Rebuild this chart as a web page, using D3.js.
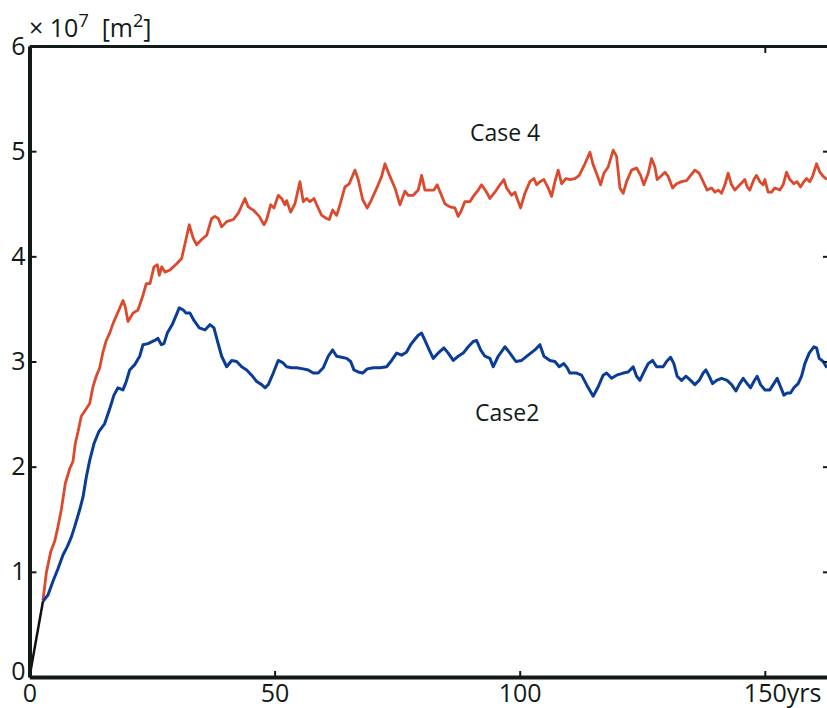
<!DOCTYPE html>
<html>
<head>
<meta charset="utf-8">
<script src="https://cdn.jsdelivr.net/npm/d3@7"></script>
<style>
  html, body { margin: 0; padding: 0; background: #fff; }
  svg { display: block; font-family: "Open Sans", "Liberation Sans", sans-serif; }
</style>
</head>
<body>
<div id="chart"></div>
<script>
const yearTicks = [0, 50, 100, 150];
const valueTicks = [0, 1, 2, 3, 4, 5, 6];
const topTicks = [150];
const rightTicks = [1, 2, 3, 4, 5];

// shared first part (drawn black in the original)
const startYears = [0, 2.75];
const startValues = [0, 0.72];

const case4Years = [2.75,3.43,4.32,5.14,5.81,6.49,7.30,8.20,8.87,9.34,9.89,10.56,11.58,12.28,12.95,13.62,14.32,14.99,15.66,16.36,17.03,18.05,19.07,19.54,20.09,21.11,22.13,23.15,23.82,24.58,25.39,26.07,26.47,26.96,27.64,28.66,30.02,31.04,31.72,32.59,33.41,34.10,35.12,36.14,37.16,37.83,38.51,39.20,40.22,41.57,42.59,43.95,44.63,45.65,46.87,47.83,48.38,49.19,49.87,50.74,51.44,52.11,52.46,53.27,54.15,55.17,55.84,56.54,57.21,58.03,58.90,59.60,60.62,61.15,61.84,62.66,63.33,64.35,65.22,66.39,67.06,67.96,68.90,69.79,70.94,71.83,72.51,73.53,74.55,75.57,76.59,77.26,78.28,79.30,79.99,80.67,81.69,82.50,83.17,83.87,84.74,85.76,86.78,87.46,87.95,88.82,89.84,90.52,91.54,92.23,93.25,93.92,94.94,95.96,96.78,97.33,98.35,99.02,100.18,101.06,102.08,102.90,103.45,104.12,104.94,105.81,106.51,107.18,107.85,108.55,109.42,110.24,111.26,112.14,113.30,114.32,114.99,115.81,116.50,117.17,118.05,119.07,119.76,120.44,121.11,121.80,122.82,123.84,124.66,125.33,126.21,126.90,127.58,128.04,128.74,129.62,130.29,131.19,132.00,133.02,134.04,134.71,135.73,136.61,137.43,138.24,139.14,139.82,140.49,141.18,141.86,142.52,143.22,143.89,144.91,145.93,146.40,146.95,147.77,148.31,148.99,149.66,150.01,150.68,151.38,152.05,153.07,153.74,154.44,155.11,155.93,156.60,157.29,157.97,158.52,159.19,159.74,160.56,161.24,161.91,162.66];
const case4Values = [0.73,0.99,1.19,1.29,1.43,1.59,1.84,1.98,2.05,2.22,2.33,2.48,2.55,2.60,2.76,2.86,2.94,3.09,3.20,3.27,3.36,3.47,3.58,3.52,3.38,3.46,3.49,3.63,3.74,3.74,3.90,3.92,3.82,3.90,3.85,3.87,3.93,3.98,4.12,4.30,4.17,4.11,4.16,4.20,4.36,4.38,4.36,4.28,4.33,4.35,4.41,4.55,4.47,4.44,4.38,4.30,4.35,4.49,4.46,4.58,4.55,4.49,4.53,4.42,4.50,4.71,4.52,4.55,4.52,4.55,4.46,4.39,4.36,4.35,4.44,4.39,4.49,4.66,4.69,4.82,4.73,4.54,4.46,4.54,4.66,4.76,4.88,4.76,4.65,4.49,4.62,4.58,4.58,4.63,4.77,4.63,4.63,4.63,4.68,4.60,4.50,4.47,4.46,4.38,4.42,4.52,4.52,4.57,4.63,4.68,4.61,4.55,4.61,4.68,4.73,4.65,4.58,4.61,4.46,4.60,4.71,4.74,4.68,4.71,4.73,4.65,4.57,4.71,4.82,4.69,4.74,4.73,4.74,4.77,4.88,4.99,4.87,4.77,4.68,4.79,4.85,5.01,4.95,4.65,4.60,4.71,4.82,4.84,4.77,4.68,4.79,4.93,4.85,4.73,4.76,4.80,4.76,4.65,4.69,4.71,4.72,4.76,4.82,4.79,4.71,4.63,4.65,4.61,4.63,4.60,4.68,4.79,4.68,4.63,4.68,4.73,4.66,4.63,4.73,4.77,4.71,4.68,4.73,4.61,4.61,4.65,4.63,4.68,4.80,4.73,4.69,4.71,4.66,4.71,4.74,4.71,4.76,4.88,4.80,4.76,4.73];

const case2Years = [2.75,3.77,4.79,5.81,6.83,7.71,8.53,9.22,10.24,10.91,11.58,12.28,13.16,14.11,15.34,16.36,17.23,18.05,19.07,19.74,20.44,21.46,22.48,23.15,24.17,25.54,26.21,26.88,27.43,28.11,29.21,30.55,31.37,31.92,32.74,33.55,34.63,35.79,36.81,37.63,38.30,39.20,40.22,41.24,42.26,43.28,44.30,45.32,46.34,47.36,48.03,48.71,49.73,50.74,51.64,52.46,53.48,54.50,55.84,56.86,57.88,58.90,59.92,60.94,61.84,62.66,63.68,64.70,65.51,66.18,67.06,67.96,68.90,70.12,71.49,72.85,73.87,74.89,75.91,76.93,77.75,78.42,79.30,79.99,80.67,81.54,82.36,83.58,84.54,85.42,86.44,87.46,88.48,89.50,90.52,91.21,92.03,92.90,93.92,94.59,95.62,96.98,98.00,99.23,100.39,101.73,103.10,104.12,104.94,106.16,107.18,108.06,109.01,109.69,110.24,111.60,112.62,113.64,114.99,116.01,117.03,117.72,118.74,119.76,121.11,122.13,123.15,123.84,124.52,125.33,126.21,127.11,127.92,129.27,129.96,130.78,131.45,132.12,133.02,133.90,134.86,135.73,136.61,137.43,137.98,138.65,139.34,140.16,141.18,142.32,143.22,144.10,144.77,145.59,146.40,147.09,147.77,148.44,149.13,150.01,151.03,151.85,152.52,153.21,153.89,154.56,155.25,155.93,156.80,157.50,158.17,159.05,160.01,160.56,161.09,161.91,162.66];
const case2Values = [0.72,0.78,0.91,1.03,1.16,1.24,1.33,1.43,1.59,1.71,1.90,2.06,2.22,2.33,2.41,2.55,2.68,2.75,2.73,2.81,2.92,2.97,3.05,3.16,3.17,3.20,3.22,3.16,3.17,3.27,3.36,3.51,3.49,3.46,3.46,3.39,3.32,3.30,3.35,3.32,3.20,3.05,2.95,3.01,3.00,2.95,2.92,2.87,2.81,2.78,2.75,2.78,2.89,3.01,2.99,2.95,2.94,2.94,2.93,2.92,2.89,2.89,2.94,3.05,3.11,3.05,3.04,3.03,3.00,2.92,2.90,2.89,2.93,2.94,2.94,2.95,3.01,3.08,3.06,3.09,3.16,3.20,3.25,3.27,3.20,3.11,3.03,3.09,3.13,3.08,3.01,3.05,3.08,3.14,3.19,3.20,3.11,3.05,3.03,2.95,3.05,3.14,3.08,3.00,3.01,3.06,3.11,3.16,3.05,3.01,3.00,2.95,2.98,2.94,2.89,2.89,2.87,2.78,2.67,2.76,2.87,2.89,2.84,2.87,2.89,2.90,2.95,2.86,2.82,2.90,2.98,3.01,2.95,2.95,3.00,3.04,2.98,2.86,2.82,2.86,2.82,2.78,2.82,2.89,2.92,2.86,2.79,2.82,2.84,2.82,2.78,2.72,2.78,2.84,2.79,2.75,2.81,2.86,2.78,2.73,2.73,2.79,2.84,2.76,2.68,2.70,2.70,2.75,2.79,2.86,2.98,3.08,3.14,3.13,3.03,3.00,2.94];

const W = 827, H = 708;
const axisColor = "#121a17";

const svg = d3.select("#chart").append("svg")
  .attr("width", W)
  .attr("height", H);

const x = d3.scaleLinear().domain([0, 163.3]).range([29.5, 830]);
const y = d3.scaleLinear().domain([0, 6]).range([677, 46]);

const line = d3.line()
  .x(d => x(d[0]))
  .y(d => y(d[1]));

// series
svg.append("path")
  .datum(d3.zip(case4Years, case4Values))
  .attr("fill", "none")
  .attr("stroke", "#dc4a2d")
  .attr("stroke-width", 2.8)
  .attr("stroke-linejoin", "round")
  .attr("d", line);

svg.append("path")
  .datum(d3.zip(case2Years, case2Values))
  .attr("fill", "none")
  .attr("stroke", "#0b3d97")
  .attr("stroke-width", 3)
  .attr("stroke-linejoin", "round")
  .attr("d", line);

svg.append("path")
  .datum(d3.zip(startYears, startValues))
  .attr("fill", "none")
  .attr("stroke", "#111")
  .attr("stroke-width", 2.5)
  .attr("d", line);

// axes
const yAxis = svg.append("g")
  .attr("transform", `translate(${x(0)},0)`)
  .call(d3.axisLeft(y).tickValues(valueTicks).tickFormat(d3.format("d"))
    .tickSizeInner(-7).tickSizeOuter(0).tickPadding(4));

const xAxis = svg.append("g")
  .attr("transform", `translate(0,${y(0)})`)
  .call(d3.axisBottom(x).tickValues(yearTicks).tickFormat(d3.format("d"))
    .tickSizeInner(-6).tickSizeOuter(0).tickPadding(7));

[yAxis, xAxis].forEach(g => {
  g.select(".domain").attr("stroke", axisColor).attr("stroke-width", 4);
  g.selectAll(".tick line").attr("stroke", axisColor).attr("stroke-width", 2);
  g.selectAll(".tick text")
    .attr("fill", axisColor)
    .style("font-size", "25px")
    .style("font-family", "'Open Sans', 'Liberation Sans', sans-serif");
});

// y "0" sits a little above its tick so it clears the x "0"
yAxis.selectAll(".tick").filter(d => d === 0).select("text").attr("dy", "0.1em");

// "150yrs": keep 150 centred on its tick, unit after it
xAxis.selectAll(".tick").filter(d => d === 150).select("text").each(function () {
  const t = d3.select(this);
  const w = this.getComputedTextLength();
  t.attr("text-anchor", "start").attr("x", -w / 2);
  t.append("tspan").text("yrs");
});

// top border
svg.append("g")
  .attr("transform", `translate(0,${y(6)})`)
  .call(d3.axisTop(x).tickValues(topTicks).tickSizeInner(-7).tickSizeOuter(0).tickFormat(""))
  .call(g => g.select(".domain").attr("stroke", axisColor).attr("stroke-width", 3))
  .call(g => g.selectAll(".tick line").attr("stroke", axisColor).attr("stroke-width", 2));

// right border (sits just past the edge)
svg.append("g")
  .attr("transform", `translate(${x.range()[1]},0)`)
  .call(d3.axisRight(y).tickValues(rightTicks).tickSizeInner(-7).tickSizeOuter(0).tickFormat(""))
  .call(g => g.select(".domain").attr("stroke", axisColor).attr("stroke-width", 3))
  .call(g => g.selectAll(".tick line").attr("stroke", axisColor).attr("stroke-width", 2));

// unit label
const unit = svg.append("text")
  .attr("x", 29)
  .attr("y", 37)
  .attr("fill", axisColor)
  .style("font-size", "25px")
  .style("white-space", "pre");
unit.append("tspan").text("\u00d7 10");
unit.append("tspan").attr("dy", -10).style("font-size", "18px").text("7");
unit.append("tspan").attr("dy", 10).text("  [m");
unit.append("tspan").attr("dy", -10).style("font-size", "18px").text("2");
unit.append("tspan").attr("dy", 10).text("]");

// series labels
svg.append("text")
  .attr("x", 470)
  .attr("y", 141)
  .attr("fill", axisColor)
  .style("font-size", "23px")
  .text("Case 4");

svg.append("text")
  .attr("x", 475)
  .attr("y", 421)
  .attr("fill", axisColor)
  .style("font-size", "23px")
  .text("Case2");
</script>
</body>
</html>
